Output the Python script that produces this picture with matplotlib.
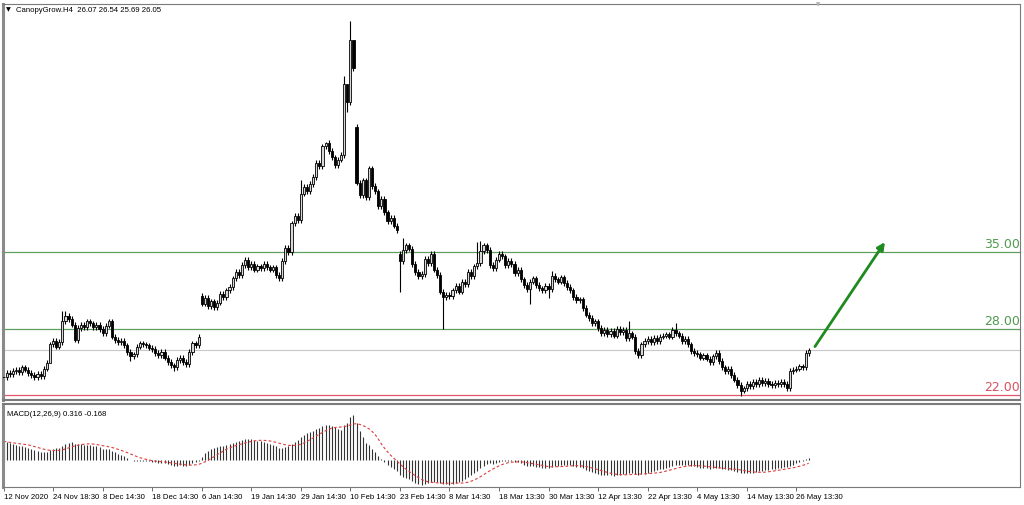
import matplotlib
matplotlib.use("Agg")

import numpy as np
import pandas as pd
import matplotlib.pyplot as plt
from matplotlib.transforms import blended_transform_factory

plt.rcParams['font.family'] = ['Liberation Sans', 'DejaVu Sans']

# H4 closes, one row per 16 bars (one time label each)
closes = [
    23.6, 24.0, 23.9, 24.2, 24.3, 24.1, 24.5, 24.3, 24.0, 23.8, 23.6, 23.9, 23.7, 24.4, 24.9, 26.6,
    26.9, 26.4, 26.8, 28.7, 29.2, 28.9, 28.4, 27.0, 28.1, 28.4, 28.2, 28.7, 28.5, 28.2, 28.4, 28.0,
    27.6, 28.3, 28.7, 27.3, 27.0, 26.8, 26.9, 26.5, 25.9, 25.5, 25.7, 26.4, 26.7, 26.6, 26.5, 26.3,
    26.2, 25.8, 25.6, 25.9, 25.4, 25.0, 24.7, 24.5, 25.2, 25.4, 25.0, 24.8, 25.9, 26.7, 26.5, 27.3,
    30.3, 30.8, 30.1, 30.5, 30.0, 30.4, 31.2, 30.9, 31.5, 31.8, 32.6, 33.2, 32.9, 33.8, 34.3, 33.6,
    33.9, 33.4, 33.7, 33.5, 33.9, 33.6, 33.4, 33.6, 32.9, 32.6, 34.2, 35.4, 35.0, 37.6, 38.3, 37.9,
    40.3, 40.9, 40.5, 41.2, 41.8, 43.1, 42.8, 44.6, 44.9, 44.2, 43.6, 42.9, 43.4, 43.8, 50.3, 48.6,
    54.3, 51.7, 41.3, 40.2, 41.5, 40.0, 42.6, 41.0, 40.5, 39.2, 39.8, 38.6, 37.8, 38.1, 37.4, 37.0,
    34.2, 35.2, 35.6, 35.3, 33.9, 33.2, 32.8, 33.0, 34.4, 34.0, 34.8, 33.4, 32.9, 31.4, 30.9, 31.1,
    31.0, 31.5, 31.9, 31.4, 32.3, 32.1, 33.2, 32.8, 33.7, 34.0, 35.1, 35.6, 35.2, 33.8, 33.5, 34.3,
    34.8, 34.6, 33.8, 34.2, 33.9, 33.1, 33.4, 32.5, 32.0, 31.6, 32.3, 32.6, 32.0, 31.7, 31.5, 31.9,
    31.6, 32.8, 32.5, 32.3, 32.7, 32.2, 31.8, 31.5, 30.9, 30.6, 30.7, 29.9, 29.3, 29.0, 28.5, 28.7,
    28.1, 27.6, 27.9, 27.5, 27.8, 27.4, 28.0, 27.7, 27.9, 27.2, 27.6, 27.3, 26.0, 25.6, 26.6, 26.9,
    27.1, 26.8, 27.2, 26.9, 27.3, 27.4, 27.5, 27.3, 27.9, 27.6, 27.4, 26.9, 27.1, 26.6, 26.0, 25.8,
    25.7, 25.4, 25.6, 25.3, 25.0, 25.5, 25.8, 25.1, 24.5, 24.2, 24.4, 23.8, 23.4, 22.9, 22.4, 22.6,
    23.0, 22.8, 23.2, 23.0, 23.4, 23.1, 23.3, 23.0, 22.9, 23.1, 23.0, 23.2, 23.0, 22.6, 24.2, 24.3,
    24.4, 24.6, 24.5, 25.8, 26.05,
]

# opens after price gaps (otherwise a bar opens at the previous close)
gap_opens = {64: 31.0, 114: 46.4, 128: 34.8}

# long shadows that stand out
high_spikes = {19: 29.6, 20: 29.6, 96: 41.5, 104: 45.0, 110: 51.0, 111: 50.2,
               112: 56.0, 113: 53.0, 129: 36.3, 153: 35.9, 154: 36.0, 177: 33.3,
               202: 28.7, 217: 28.5}
low_spikes = {15: 25.9, 23: 26.8, 41: 25.1, 55: 24.2, 111: 47.7, 128: 31.4,
              142: 28.0, 170: 30.3, 176: 30.8, 238: 21.9}

tick_labels = ["12 Nov 2020", "24 Nov 18:30", "8 Dec 14:30", "18 Dec 14:30",
               "6 Jan 14:30", "19 Jan 14:30", "29 Jan 14:30", "10 Feb 14:30",
               "23 Feb 14:30", "8 Mar 14:30", "18 Mar 13:30", "30 Mar 13:30",
               "12 Apr 13:30", "22 Apr 13:30", "4 May 13:30", "14 May 13:30",
               "26 May 13:30"]
bars_per_label = 16

resistance_levels = [35.0, 28.0]
support_level = 22.0
bid_price = 26.05
macd_start = 1.8  # MACD value at the first visible bar

n = len(closes)
x = np.arange(n)
c = np.array(closes)
o = np.concatenate([[c[0]], c[:-1]])
for i, v in gap_opens.items():
    o[i] = v
hi = np.maximum(o, c) + 0.25
lo = np.minimum(o, c) - 0.25
for i, v in high_spikes.items():
    hi[i] = v
for i, v in low_spikes.items():
    lo[i] = v

# MACD(12,26,9) as in MetaTrader: main = EMA12 - EMA26, signal = SMA9 of main
def ema(values, period, start):
    k = 2.0 / (period + 1)
    out, prev = [], start
    for v in values:
        prev = prev + k * (v - prev)
        out.append(prev)
    return np.array(out)

macd = ema(c, 12, c[0]) - ema(c, 26, c[0] - macd_start)
signal = pd.Series(macd).rolling(9, min_periods=1).mean().values

W, H = 1024, 506
fig = plt.figure(figsize=(W / 100, H / 100), dpi=100)
fig.patch.set_facecolor("white")

x0_px, step_px = 3.5, 3.097
left_px, right_px = 3, 1020
xlim = ((left_px - x0_px) / step_px, (right_px - x0_px) / step_px)

ax = fig.add_axes([left_px / W, 1 - 401 / H, (right_px - left_px) / W, 396 / H])
axm = fig.add_axes([left_px / W, 1 - 488 / H, (right_px - left_px) / W, 83 / H])

# price panel
ax.set_xlim(*xlim)
ax.set_ylim(21.545, 57.545)
ax.axhline(bid_price, color="#c8c8c8", lw=0.8, zorder=1)
for lvl in resistance_levels:
    ax.axhline(lvl, color="#5e9e5e", lw=0.9, zorder=1)
    ax.text(1, lvl + 0.2, f"{lvl:.2f}", transform=blended_transform_factory(ax.transAxes, ax.transData),
            ha="right", va="bottom", fontsize=9, color="#4f9a4f", family="DejaVu Sans")
ax.axhline(support_level, color="#e0566a", lw=0.9, zorder=1)
ax.text(1, support_level + 0.2, f"{support_level:.2f}",
        transform=blended_transform_factory(ax.transAxes, ax.transData),
        ha="right", va="bottom", fontsize=9, color="#d8505f", family="DejaVu Sans")

ax.vlines(x, lo, hi, color="black", lw=0.8, zorder=2)
up = c >= o
body = np.where(np.abs(c - o) < 0.08, 0.08, c - o)
ax.bar(x[up], body[up], bottom=o[up], width=0.7, color="#d8d8d8",
       edgecolor="black", linewidth=0.6, zorder=3)
ax.bar(x[~up], body[~up], bottom=o[~up], width=0.7, color="black",
       edgecolor="black", linewidth=0.6, zorder=3)

ax.annotate("", xy=(284.6, 35.9), xytext=(262.0, 26.4),
            arrowprops=dict(arrowstyle="-|>", color="#1f8a1f", lw=2,
                            mutation_scale=11, shrinkA=0, shrinkB=0))

ax.set_xticks([])
ax.set_yticks([])

# MACD panel
axm.set_xlim(*xlim)
lo_v = min(macd.min(), signal.min())
hi_v = max(macd.max(), signal.max())
rng = hi_v - lo_v
axm.set_ylim(lo_v - rng * 2 / 71, hi_v + rng * 11 / 71)
axm.vlines(x, 0, macd, color="#333333", lw=0.8)
axm.plot(x, signal, color="#e03c3c", lw=0.8, ls=(0, (2.5, 2)))
axm.set_yticks([])
axm.set_xticks(np.arange(len(tick_labels)) * bars_per_label)
axm.set_xticklabels(tick_labels, fontsize=5.6, ha="left")
axm.tick_params(axis="x", length=3, width=0.6, color="#555555", pad=1.5)

for a in (ax, axm):
    for s in a.spines.values():
        s.set_color("#7a7a7a")
        s.set_linewidth(0.8)
    a.spines["left"].set_linewidth(2.2)
    a.spines["left"].set_color("#8a8a8a")
ax.spines["bottom"].set_linewidth(1.5)
axm.spines["top"].set_linewidth(1.5)

# header texts
fig.text(6 / W, 1 - 10 / H, "\u25bc", fontsize=4.5, va="center", family="DejaVu Sans")
fig.text(16 / W, 1 - 10 / H, "CanopyGrow.H4  26.07 26.54 25.69 26.05", fontsize=5.6, va="center")
fig.text(7 / W, 1 - 415 / H, "MACD(12,26,9) 0.316 -0.168", fontsize=5.6, va="center")
fig.text(818 / W, 1 - 5 / H, "\u25bc", fontsize=4, color="#b0b0b0", ha="center", va="center",
         family="DejaVu Sans")

fig.savefig("out.png", dpi=100, facecolor="white")
plt.close(fig)
